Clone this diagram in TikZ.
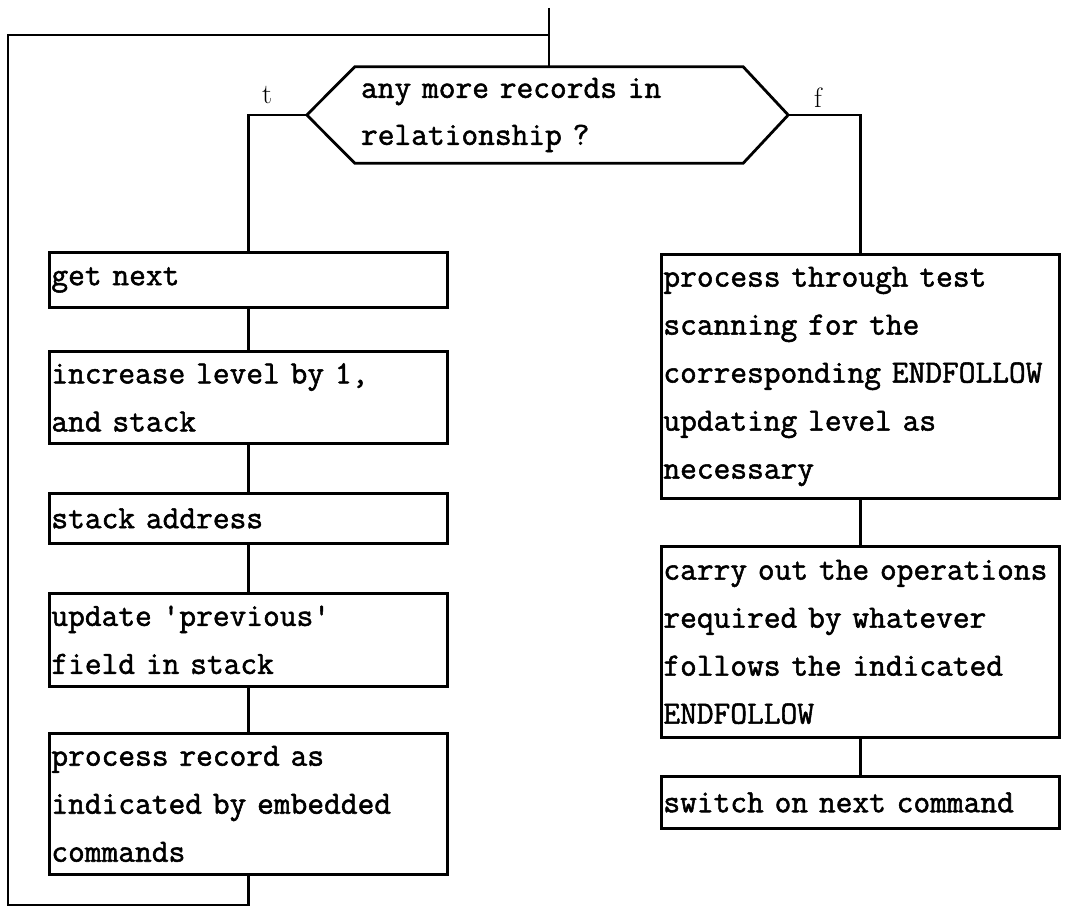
\documentclass[tikz,border=0pt]{standalone}
\usepackage{fontspec}
\setmonofont{Latin Modern Mono}[FakeBold=1.6]
\usetikzlibrary{calc}

% typewriter text at a fixed pitch and line feed
\newcommand{\twfont}[1]{\ttfamily\fontsize{32.5}{#1}\selectfont}

\tikzset{
  x=1pt, y=-1pt,
  wire/.style={line width=2.8pt, line join=miter},
  box/.style={draw, line width=2.8pt, rectangle, anchor=north west,
    inner xsep=2pt, inner ysep=0pt, align=left, font=\twfont{48}},
  branch/.style={font=\fontsize{28}{28}\selectfont, inner sep=0pt},
}

\begin{document}
\begin{tikzpicture}
  \useasboundingbox (0,0) rectangle (1067,909);

  % decision
  \node[inner xsep=6pt, inner ysep=0pt, minimum width=388pt, minimum height=96pt,
        text width=376pt, align=left, font=\twfont{47}]
        (cond) at (549,115) {any more records in\\relationship ?};
  \coordinate (condL) at ($(cond.west)+(-48,0)$);
  \coordinate (condR) at ($(cond.east)+(45,0)$);
  \draw[wire] (cond.north west) -- (cond.north east) -- (condR)
    -- (cond.south east) -- (cond.south west) -- (condL) -- cycle;

  \node[branch] (tlab) at (267,95) {t};
  \node[branch] (flab) at (818,98) {f};

  % true branch
  \node[box, text width=394pt, minimum height=55pt]  (lp1) at (48,251) {get next};
  \node[box, text width=394pt, minimum height=92pt]  (lp2) at (48,350) {increase level by 1,\\and stack};
  \node[box, text width=394pt, minimum height=50pt]  (lp3) at (48,492) {stack address};
  \node[box, text width=394pt, minimum height=93pt]  (lp4) at (48,592) {update 'previous'\\field in stack};
  \node[box, text width=394pt, minimum height=141pt] (lp5) at (48,732) {process record as\\indicated by embedded\\commands};

  % false branch
  \node[box, text width=394pt, minimum height=244pt] (rp1) at (660,253) {process through test\\scanning for the\\corresponding ENDFOLLOW\\updating level as\\necessary};
  \node[box, text width=394pt, minimum height=191pt] (rp2) at (660,545) {carry out the operations\\required by whatever\\follows the indicated\\ENDFOLLOW};
  \node[box, text width=394pt, minimum height=52pt]  (rp3) at (660,775) {switch on next command};

  % entry and loop back
  \coordinate (entry) at (549,8);
  \coordinate (join) at (549,35);
  \coordinate (loopBL) at (8,905);
  \draw[wire] (entry) -- (cond.north);
  \draw[wire] (lp5.south) |- (loopBL) |- (join);

  % branch connectors
  \draw[wire] (condL) -| (lp1.north);
  \draw[wire] (condR) -| (rp1.north);
  \draw[wire] (lp1) -- (lp2);
  \draw[wire] (lp2) -- (lp3);
  \draw[wire] (lp3) -- (lp4);
  \draw[wire] (lp4) -- (lp5);
  \draw[wire] (rp1) -- (rp2);
  \draw[wire] (rp2) -- (rp3);
\end{tikzpicture}
\end{document}
